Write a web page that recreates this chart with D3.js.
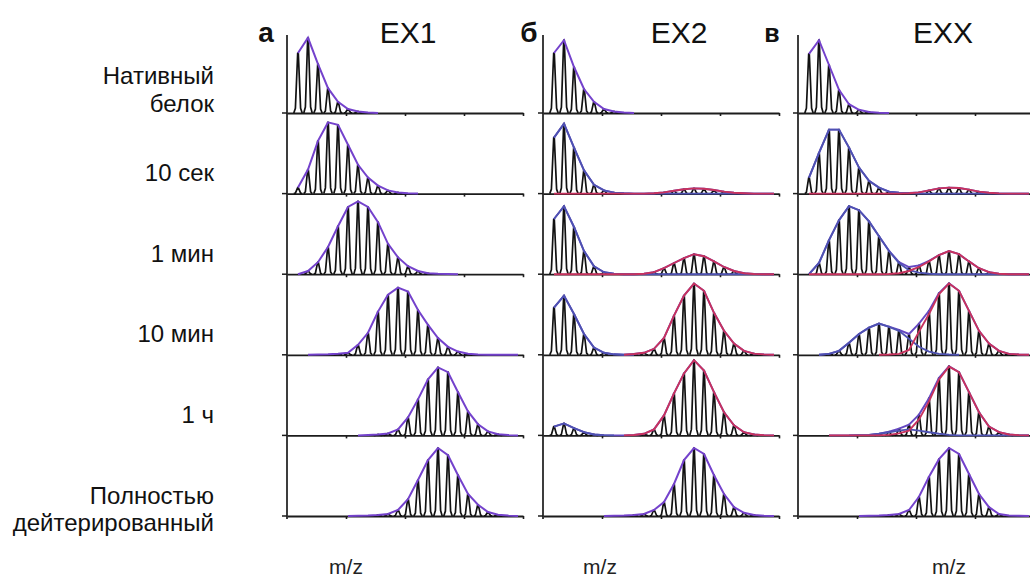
<!DOCTYPE html>
<html><head><meta charset="utf-8">
<script src="https://cdn.jsdelivr.net/npm/d3@7/dist/d3.min.js"></script>
<style>
body{margin:0;background:#fff}
svg{display:block;font-family:Arial,"Liberation Sans",Helvetica,sans-serif}
</style>
</head><body>
<svg id="chart" width="1030" height="579"></svg>
<script>
// ---------- DATA ----------
const rowLabels = [["Нативный","белок"],["10 сек"],["1 мин"],["10 мин"],["1 ч"],["Полностью","дейтерированный"]];
const panelLetters = ["а","б","в"];
const panelTitles = ["EX1","EX2","EXX"];
const xAxisLabel = "m/z";
const isotopeIndex = [0,1,2,3,4,5,6,7,8,9,10,11,12,13,14,15,16,17,18,19,20,21,22,23];
const tickValues = [5.9, 11.8, 17.7, 23.6];
const _ = null;

// EX1: single population (relative intensity, % of row height)
const ex1Envelope = [
  [_,75,94,61,31,14,5,2,0.6,0,_,_,_,_,_,_,_,_,_,_,_,_,_,_],
  [_,7.5,30,66,89,86,61,36,20,10,4,1.5,0.5,0,_,_,_,_,_,_,_,_,_,_],
  [_,0,4,15,34,60,84,91,84,65,38,21,10,4,1.2,0.5,0.2,0,_,_,_,_,_,_],
  [_,_,0,0.3,0.6,1.2,2.5,12.5,27.5,54,75,84,79,56,37.5,21,10,4,1.2,0.5,0.2,0.1,0,0],
  [_,_,_,_,_,_,_,0,0.5,1.2,2.5,7.5,22.5,45,70,85,79,54,30,14,5,1.5,0.5,0],
  [_,_,_,_,_,_,0,0.3,0.6,1.2,2.5,7.5,21,45,70,85,76,51,27.5,14,5,1.5,0.5,0]
];
// EX2: low-mass (unexchanged) and high-mass (exchanged) populations
const ex2Low = [
  [_,75,91,57.5,30,14,5,2,0.6,0,_,_,_,_,_,_,_,_,_,_,_,_,_,_],
  [_,70,87.5,57.5,29,11,4,1.2,0.4,0,0,0,0,0,0,0,0,0,0,0,0,0,0,0],
  [_,69,85,59,29,10,2.5,0.6,0,0,0,0,0,0,0,0,0,0,0,0,0,0,0,0],
  [_,59,74,51,26,9,2.5,0.6,0,0,_,_,_,_,_,_,_,_,_,_,_,_,_,_],
  [_,11,15,9,4,1.2,0.3,0,_,_,_,_,_,_,_,_,_,_,_,_,_,_,_,_],
  null
];
const ex2High = [
  null,
  [_,0,0,0,0,0,0,0,0,0,0,0.5,1.5,3.5,5.5,6.5,6,4.5,2.5,1,0.4,0,0,0],
  [_,0,0,0,0,0,0,0,0,0,0.5,2.5,7.5,14,20,25,22.5,16,9,4,1.2,0.3,0,0],
  [_,_,_,_,_,_,_,_,0,1,2.5,7.5,21,49,74,89,80,52.5,30,14,5,1.5,0.5,0],
  [_,_,_,_,_,_,_,_,0,0.5,2,7.5,25,52.5,77.5,94,81,54,29,12.5,4,1.2,0.4,0],
  [_,_,_,_,_,_,0,0.3,0.6,1.2,2.5,7.5,17.5,40,70,85,77.5,51,27.5,11,4,1.2,0.4,0]
];
// EXX
const exxLow = [
  [_,74,91,60,29,11,4,1.2,0.4,0,_,_,_,_,_,_,_,_,_,_,_,_,_,_],
  [_,20,51,80,80,57.5,32.5,16,7.5,2.5,1,0.4,0,0,0,0,0,0,0,0,0,0,0,0],
  [_,0,14,42.5,67.5,85,80,66,47.5,29,14,5,2,0.6,0,0,0,0,0,0,0,0,0,0],
  [_,_,0,1.2,5,15,26,34,39,35,30,20,10,4,1.2,0.4,0,_,_,_,_,_,_,_],
  [_,_,_,_,_,0,0.3,0.6,2,4,6,7.5,6,4,2,0.6,0,0,0,0,0,0,0,0],
  null
];
const exxHigh = [
  null,
  [_,0,0,0,0,0,0,0,0,0,0,0.5,1.5,4,6.5,7.5,7,5,2.5,1,0.3,0,0,0],
  [_,0,0,0,0,0,0,0,0,0.3,1.2,4,9,16,24,29,25,16,7.5,2.5,0.6,0,0,0],
  [_,_,_,_,_,_,_,_,0,0.3,1.2,6,29,51,76,89,80,55,30,14,5,1.2,0.4,0],
  [_,_,_,0,0,0,0,0,0,0.6,2.5,6,20,42.5,70,86,79,54,29,11,4,1.2,0.3,0],
  [_,_,_,_,_,_,0,0.3,0.6,1.2,2.5,7.5,24,49,71,85,77.5,52.5,27.5,11,2.5,0.6,0.2,0]
];

// ---------- LAYOUT / STYLE ----------
const panels = [
  {letter: panelLetters[0], title: panelTitles[0], low: ex1Envelope, high: [null,null,null,null,null,null]},
  {letter: panelLetters[1], title: panelTitles[1], low: ex2Low, high: ex2High},
  {letter: panelLetters[2], title: panelTitles[2], low: exxLow, high: exxHigh}
];
const panelX = [287, 543, 798];
const panelW = 236;
const letterX = [266, 529, 772];
const titleX = [408, 679, 943];
const mzX = [346, 600, 949];
const COLORS = {single: "#7442cc", low: "#4e52b2", high: "#c8325e", sum: "#6548c2", peak: "#111111", axis: "#1c1c1c"};

const svg = d3.select("#chart");
const rowBase = d3.scaleLinear().domain([0, 5]).range([113, 516]);
const hScale = d3.scaleLinear().domain([0, 100]).range([0, 80]);
const axisTop = 35;

// Row labels
const labelDy = [[-38, -10], [-21], [-21], [-21], [-21], [-21, 6]];
rowLabels.forEach((lines, r) => {
  lines.forEach((t, j) => {
    svg.append("text")
      .attr("x", 214).attr("y", rowBase(r) + labelDy[r][j])
      .attr("dy", "0.36em")
      .attr("text-anchor", "end")
      .attr("font-size", 24)
      .attr("fill", "#111")
      .text(t);
  });
});

panels.forEach((p, pi) => {
  const x0 = panelX[pi];
  const x = d3.scaleLinear().domain([0, 23.6]).range([x0, x0 + panelW]);
  const g = svg.append("g");

  // letter and title
  g.append("text").attr("x", letterX[pi]).attr("y", 42)
    .attr("text-anchor", "middle").attr("font-size", pi === 2 ? 25 : 28)
    .attr("font-weight", "bold").attr("fill", "#111").text(p.letter);
  g.append("text").attr("x", titleX[pi]).attr("y", 43)
    .attr("text-anchor", "middle").attr("font-size", 30)
    .attr("fill", "#111").text(p.title);
  // m/z label
  g.append("text").attr("x", mzX[pi]).attr("y", 574)
    .attr("text-anchor", "middle").attr("font-size", 21)
    .attr("fill", "#222").text(xAxisLabel);

  // vertical axis
  g.append("line").attr("x1", x0).attr("x2", x0)
    .attr("y1", axisTop).attr("y2", rowBase(5) + 3)
    .attr("stroke", COLORS.axis).attr("stroke-width", 1.7);

  for (let r = 0; r < 6; r++) {
    const base = rowBase(r);
    // left tick
    g.append("line").attr("x1", x0 - 5).attr("x2", x0).attr("y1", base).attr("y2", base)
      .attr("stroke", COLORS.axis).attr("stroke-width", 1.5);
    // baseline axis
    const ax = g.append("g").attr("transform", `translate(0,${base})`)
      .call(d3.axisBottom(x).tickValues(tickValues).tickSize(3).tickSizeOuter(0).tickFormat(() => ""));
    ax.select(".domain").attr("stroke", COLORS.axis).attr("stroke-width", 1.8);
    ax.selectAll(".tick line").attr("stroke", COLORS.axis).attr("stroke-width", 1.6);

    const low = p.low[r], high = p.high[r];
    const both = low && high;
    const sumVals = isotopeIndex.map(i => {
      const a = low ? low[i] : null, b = high ? high[i] : null;
      if (a == null && b == null) return null;
      return (a || 0) + (b || 0);
    });

    // isotope peaks (black spikes)
    const spike = d3.line();
    isotopeIndex.forEach(i => {
      const v = sumVals[i];
      if (v == null || v < 1) return;
      const cx = x(i + 0.1), h = hScale(v);
      const pts = [[cx - 4.2, base], [cx - 2.6, base - h * 0.08], [cx - 0.3, base - h], [cx + 0.3, base - h], [cx + 2.6, base - h * 0.08], [cx + 4.2, base]];
      g.append("path").attr("d", spike(pts))
        .attr("fill", "none").attr("stroke", COLORS.peak)
        .attr("stroke-width", 1.7).attr("stroke-linejoin", "round");
    });

    const env = d3.line()
      .defined(d => d.v != null)
      .x(d => x(d.i + 0.1))
      .y(d => base - hScale(d.v));
    const series = vals => isotopeIndex.map(i => ({i, v: vals[i]}));

    if (both) {
      g.append("path").attr("d", env(series(sumVals)))
        .attr("fill", "none").attr("stroke", COLORS.sum).attr("stroke-width", 1.9);
      g.append("path").attr("d", env(series(low)))
        .attr("fill", "none").attr("stroke", COLORS.low).attr("stroke-width", 1.9);
      g.append("path").attr("d", env(series(high)))
        .attr("fill", "none").attr("stroke", COLORS.high).attr("stroke-width", 1.9);
    } else {
      const only = low || high;
      g.append("path").attr("d", env(series(only)))
        .attr("fill", "none").attr("stroke", COLORS.single).attr("stroke-width", 2);
    }
  }
});
</script>
</body></html>
